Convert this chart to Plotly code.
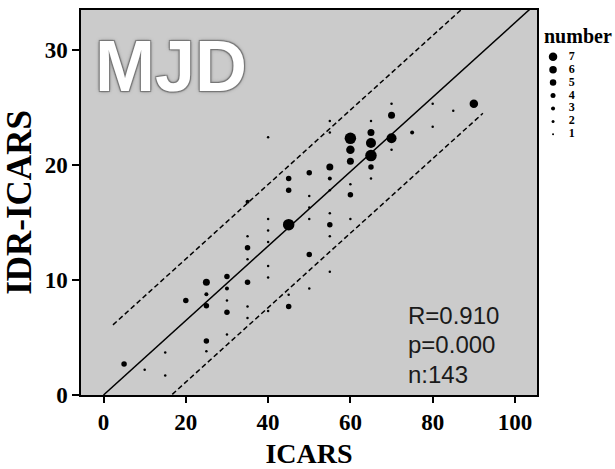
import numpy as np
import plotly.graph_objects as go

# ---- data ----
icars = [5, 10, 15, 15, 20,
         25, 25, 25, 25, 25,
         30, 30, 30, 30, 30,
         35, 35, 35, 35, 35, 35, 35,
         40, 40, 40, 40, 40, 40, 40,
         45, 45, 45, 45, 45,
         50, 50, 50, 50, 50, 50,
         55, 55, 55, 55, 55, 55, 55, 55, 55,
         60, 60, 60, 60, 60, 60,
         65, 65, 65, 65, 65, 65,
         70, 70, 70, 70,
         75, 80, 80, 85, 90]
idr_icars = [2.7, 2.2, 3.7, 1.7, 8.2,
             9.8, 8.75, 7.75, 4.7, 3.8,
             10.3, 9.25, 8.2, 7.2, 5.25,
             16.8, 13.8, 12.8, 11.8, 9.8, 7.7, 6.7,
             22.4, 15.3, 14.3, 13.3, 11.2, 10.2, 7.3,
             18.8, 17.8, 14.8, 8.7, 7.7,
             19.3, 17.3, 16.3, 15.3, 12.2, 9.25,
             23.8, 22.8, 19.8, 18.8, 17.8, 15.8, 14.8, 13.8, 10.7,
             22.3, 21.3, 20.3, 18.3, 17.4, 15.3,
             23.8, 22.8, 21.9, 20.8, 19.8, 18.8,
             25.3, 24.3, 22.3, 21.3,
             22.8, 25.3, 23.3, 24.7, 25.3]
number = [3, 1, 1, 1, 3,
          4, 2, 3, 3, 1,
          3, 2, 1, 3, 1,
          2, 1, 3, 1, 3, 1, 1,
          1, 1, 1, 1, 1, 1, 1,
          3, 3, 7, 1, 3,
          3, 1, 1, 1, 3, 1,
          1, 1, 4, 2, 1, 1, 3, 1, 1,
          7, 5, 4, 1, 3, 1,
          1, 4, 6, 7, 3, 1,
          1, 4, 6, 1,
          2, 1, 1, 1, 5]

legend_numbers = [7, 6, 5, 4, 3, 2, 1]
x_ticks = [0, 20, 40, 60, 80, 100]
y_ticks = [0, 10, 20, 30]
stats_lines = ["R=0.910", "p=0.000", "n:143"]

# regression fit and prediction band
fit_slope = 0.3235
fit_intercept = 0.0
band_half = 5.35
fit_x_range = [0.0, 105.3]
band_x_range = [2.3, 92.2]

# ---- styles ----
size_of = {1: 2.5, 2: 4, 3: 5.5, 4: 7, 5: 8.5, 6: 10, 7: 11.5}
legend_size_of = {1: 2, 2: 3, 3: 4, 4: 5, 5: 6.5, 6: 7.5, 7: 8.5}
serif = "Liberation Serif, Times New Roman, serif"
sans = "Liberation Sans, Arial, sans-serif"

W, H = 615, 469
L, T, B = 81, 10, 72
plot_right_px = 537
paper_w = W - L
paper_h = H - T - B

def px_to_paper_x(px):
    return (px - L) / paper_w

def px_to_paper_y(py):
    return (H - B - py) / paper_h

fig = go.Figure()

fx = np.linspace(fit_x_range[0], fit_x_range[1], 50)
fig.add_trace(go.Scatter(x=fx, y=fit_slope * fx + fit_intercept, mode="lines",
                         line=dict(color="black", width=1.5), showlegend=False,
                         hoverinfo="skip"))
bx = np.linspace(band_x_range[0], band_x_range[1], 50)
for sgn in (1, -1):
    fig.add_trace(go.Scatter(x=bx, y=fit_slope * bx + fit_intercept + sgn * band_half,
                             mode="lines",
                             line=dict(color="black", width=1.5, dash="5px,3px"),
                             showlegend=False, hoverinfo="skip"))

fig.add_trace(go.Scatter(x=icars, y=idr_icars, mode="markers",
                         marker=dict(color="black", opacity=1,
                                     size=[size_of[n] for n in number],
                                     line=dict(width=0)),
                         showlegend=False))

# legend as a small side axis
fig.add_trace(go.Scatter(x=[0.12] * len(legend_numbers), y=legend_numbers, mode="markers",
                         marker=dict(color="black", opacity=1,
                                     size=[legend_size_of[n] for n in legend_numbers],
                                     line=dict(width=0)),
                         xaxis="x2", yaxis="y2", showlegend=False, hoverinfo="skip"))
fig.add_trace(go.Scatter(x=[0.40] * len(legend_numbers), y=legend_numbers, mode="text",
                         text=[str(n) for n in legend_numbers], textposition="middle center",
                         textfont=dict(family=serif, size=12, color="black", weight="bold"),
                         xaxis="x2", yaxis="y2", showlegend=False, hoverinfo="skip"))

plot_w_px = plot_right_px - L
x_dom = [0, plot_w_px / paper_w]

fig.update_layout(
    width=W, height=H,
    margin=dict(l=L, r=0, t=T, b=B, pad=0),
    paper_bgcolor="white",
    plot_bgcolor="rgba(0,0,0,0)",
    xaxis=dict(domain=x_dom, range=[-5.47, 105.35], tickvals=x_ticks,
               ticks="outside", ticklen=6, tickwidth=1.5, tickcolor="black",
               showline=True, linecolor="black", linewidth=1.5, mirror=True,
               showgrid=False, zeroline=False,
               tickfont=dict(family=serif, size=23, color="black", weight="bold"),
               title=dict(text="ICARS", font=dict(family=serif, size=28, color="black", weight="bold"),
                          standoff=14)),
    yaxis=dict(range=[0, 33.45], tickvals=y_ticks,
               ticks="outside", ticklen=7, tickwidth=1.5, tickcolor="black",
               showline=True, linecolor="black", linewidth=1.5, mirror=True,
               showgrid=False, zeroline=False,
               tickfont=dict(family=serif, size=23, color="black", weight="bold"),
               title=dict(text="IDR-ICARS", font=dict(family=serif, size=35, color="black", weight="bold"),
                          standoff=10)),
    xaxis2=dict(domain=[px_to_paper_x(545), px_to_paper_x(612)], range=[0, 1],
                visible=False, anchor="y2", fixedrange=True),
    yaxis2=dict(domain=[px_to_paper_y(140), px_to_paper_y(50)], range=[0.615, 7.538],
                visible=False, anchor="x2", fixedrange=True),
)

# grey plotting area (main axes only)
fig.add_shape(type="rect", xref="x domain", yref="y domain", x0=0, x1=1, y0=0, y1=1,
              fillcolor="#cbcbcb", line=dict(width=0), layer="below")

fig.add_annotation(text="number", xref="paper", yref="paper",
                   x=px_to_paper_x(542), y=px_to_paper_y(36), xanchor="left", yanchor="middle",
                   showarrow=False,
                   font=dict(family=serif, size=20, color="black", weight="bold"))

fig.add_annotation(text="MJD", xref="paper", yref="paper",
                   x=px_to_paper_x(171), y=px_to_paper_y(66), xanchor="center", yanchor="middle",
                   showarrow=False,
                   font=dict(family=sans, size=72, color="white", weight="bold",
                             shadow="1px 1px 1px #777, -1px -1px 1px #777, 1px -1px 1px #777, "
                                    "-1px 1px 1px #777, 0px 0px 4px #888"))

for i, line in enumerate(stats_lines):
    fig.add_annotation(text=line, xref="paper", yref="paper",
                       x=px_to_paper_x(406), y=px_to_paper_y(317 + 29.5 * i),
                       xanchor="left", yanchor="middle", showarrow=False,
                       font=dict(family=sans, size=24, color="#1a1a1a"))

fig.write_html("out.html")
